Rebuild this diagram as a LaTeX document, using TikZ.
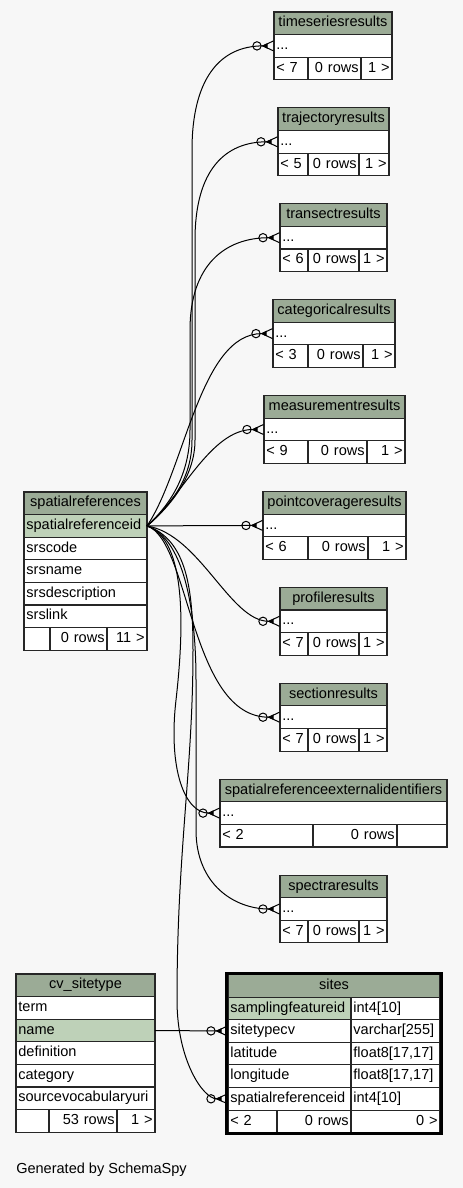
\documentclass[tikz,border=0pt]{standalone}
\usepackage{fontspec}
\setmainfont{Liberation Sans}
\usepackage{tikz}
\usetikzlibrary{arrows.meta, positioning}

\definecolor{bgcol}{HTML}{F7F7F7}
\definecolor{headcol}{HTML}{9BAB96}
\definecolor{keycol}{HTML}{BED1B8}

\tikzset{
  cell/.style={draw=black!85, line width=0.8pt, fill=white, anchor=north west,
    minimum height=16.95pt, inner xsep=1.8pt, inner ysep=0pt, outer sep=0pt,
    text height=7.9pt, text depth=2.4pt},
  cellw/.code={\pgfmathsetlengthmacro\cellmw{(#1)*0.75pt}%
    \pgfmathsetlengthmacro\celltw{(#1)*0.75pt-3.6pt}%
    \pgfkeysalso{/tikz/minimum width/.expanded=\cellmw, /tikz/text width/.expanded=\celltw}},
  head/.style={cell, fill=headcol, align=center},
  keyfld/.style={cell, fill=keycol, align=left},
  fld/.style={cell, align=left},
  num/.style={cell, align=right},
  link/.style={draw=black, line width=0.75pt,
    -{Circle[open,length=7pt,width=7pt]
      Triangle[reversed,length=4.5pt,width=4pt,sep=-4.5pt]
      Straight Barb[reversed,length=8pt,width=7.5pt]}}
}

\begin{document}
\begin{tikzpicture}[x=0.75pt, y=-0.75pt, font=\fontsize{10.9}{13}\selectfont]
% Background
\fill[bgcol] (0,0) rectangle (463,1188);

% Result tables
\foreach \nm/\i/\xl/\xr/\da/\db/\lt/\rt in {
    timeseriesresults/0/274/392/308/361/7/1 >,
    trajectoryresults/1/278/389/308/359/5/1 >,
    transectresults/2/280/387/308/359/6/1 >,
    categoricalresults/3/273/395/308/363/3/1 >,
    measurementresults/4/264/405/308/367/9/1 >,
    pointcoverageresults/5/263/406/308/368/6/1 >,
    profileresults/6/280/387/308/359/7/1 >,
    sectionresults/7/280/387/308/359/7/1 >,
    spatialreferenceexternalidentifiers/8/220/447/313/397/2/{},
    spectraresults/9/280/387/308/359/7/1 >} {
  \pgfmathsetmacro\yt{12+95.9*\i}
  \node[head, cellw=\xr-\xl] (\nm-h) at (\xl,\yt) {\nm};
  \node[fld, cellw=\xr-\xl] (\nm-r) at (\xl,\yt+22.6) {...};
  \node[fld, cellw=\da-\xl] (\nm-fa) at (\xl,\yt+45.2) {< \lt};
  \node[num, cellw=\db-\da] (\nm-fb) at (\da,\yt+45.2) {0 rows};
  \node[num, cellw=\xr-\db] (\nm-fc) at (\db,\yt+45.2) {\rt};
}

% spatialreferences
\node[head, cellw=123] (sr-h) at (24,492) {spatialreferences};
\node[keyfld, cellw=123] (sr-id) at (24,514.6) {spatialreferenceid};
\foreach \f [count=\k] in {srscode,srsname,srsdescription,srslink}
  \node[fld, cellw=123] (sr-\f) at (24,514.6+22.6*\k) {\f};
\node[fld, cellw=26] (sr-fa) at (24,627.6) {};
\node[num, cellw=57] (sr-fb) at (50,627.6) {0 rows};
\node[num, cellw=40] (sr-fc) at (107,627.6) {11 >};

% cv_sitetype
\node[head, cellw=139] (cv-h) at (16,974) {cv\_sitetype};
\node[fld, cellw=139] (cv-term) at (16,996.6) {term};
\node[keyfld, cellw=139] (cv-name) at (16,1019.2) {name};
\foreach \f [count=\k] in {definition,category,sourcevocabularyuri}
  \node[fld, cellw=139] (cv-\f) at (16,1019.2+22.6*\k) {\f};
\node[fld, cellw=33] (cv-fa) at (16,1109.6) {};
\node[num, cellw=68] (cv-fb) at (49,1109.6) {53 rows};
\node[num, cellw=38] (cv-fc) at (117,1109.6) {1 >};

% sites
\node[head, cellw=212] (sites-h) at (228,974.5) {sites};
\node[keyfld, cellw=123] (sites-sfid) at (228,997.1) {samplingfeatureid};
\node[fld, cellw=89] (sites-sfidt) at (351,997.1) {int4[10]};
\node[fld, cellw=123] (sites-stc) at (228,1019.7) {sitetypecv};
\node[fld, cellw=89] (sites-stct) at (351,1019.7) {varchar[255]};
\node[fld, cellw=123] (sites-lat) at (228,1042.3) {latitude};
\node[fld, cellw=89] (sites-latt) at (351,1042.3) {float8[17,17]};
\node[fld, cellw=123] (sites-lon) at (228,1064.9) {longitude};
\node[fld, cellw=89] (sites-lont) at (351,1064.9) {float8[17,17]};
\node[fld, cellw=123] (sites-spr) at (228,1087.5) {spatialreferenceid};
\node[fld, cellw=89] (sites-sprt) at (351,1087.5) {int4[10]};
\node[fld, cellw=49] (sites-fa) at (228,1110.1) {< 2};
\node[num, cellw=74] (sites-fb) at (277,1110.1) {0 rows};
\node[num, cellw=89] (sites-fc) at (351,1110.1) {0 >};
\draw[line width=2.3pt] ([shift={(-1.2,-1.2)}]sites-h.north west) rectangle ([shift={(1.2,1.2)}]sites-fc.south east);

% Relationships
\draw[link] (sr-id.east) .. controls +(23,-21) and +(0,40) .. (192,440) -- (192,150)
  .. controls +(0,-70) and +(-55,0) .. (timeseriesresults-r.west);
\draw[link] (sr-id.east) .. controls +(25,-21) and +(0,35) .. (195,440) -- (195,240)
  .. controls +(0,-70) and +(-53,0) .. (trajectoryresults-r.west);
\draw[link] (sr-id.east) .. controls +(23,-21) and +(0,45) .. (190,430) -- (190,330)
  .. controls +(0,-65) and +(-55,0) .. (transectresults-r.west);
\draw[link] (sr-id.east) .. controls +(38,-56) and +(-73,0) .. (categoricalresults-r.west);
\draw[link] (sr-id.east) .. controls +(33,-26) and +(-54,0) .. (measurementresults-r.west);
\draw[link] (sr-id.east) -- (pointcoverageresults-r.west);
\draw[link] (sr-id.east) .. controls +(53,9) and +(-50,0) .. (profileresults-r.west);
\draw[link] (sr-id.east) .. controls +(43,14) and +(-90,0) .. (sectionresults-r.west);
\draw[link] (sr-id.east) .. controls +(40,14) and +(8,-70) .. (176,700)
  .. controls +(-8,70) and +(-35,0) .. (spatialreferenceexternalidentifiers-r.west);
\draw[link] (sr-id.east) .. controls +(40,14) and +(0,-60) .. (196,680) -- (196,830)
  .. controls +(0,55) and +(-45,0) .. (spectraresults-r.west);
\draw[link] (sr-id.east) .. controls +(40,14) and +(0,-60) .. (193,650)
  .. controls +(0,120) and +(0,-150) .. (177,1000)
  .. controls +(0,60) and +(-25,0) .. (sites-spr.west);
\draw[link] (cv-name.east) -- (sites-stc.west);

% Footer
\node[anchor=west, inner sep=0pt] (gen) at (16,1170) {Generated by SchemaSpy};
\end{tikzpicture}
\end{document}
